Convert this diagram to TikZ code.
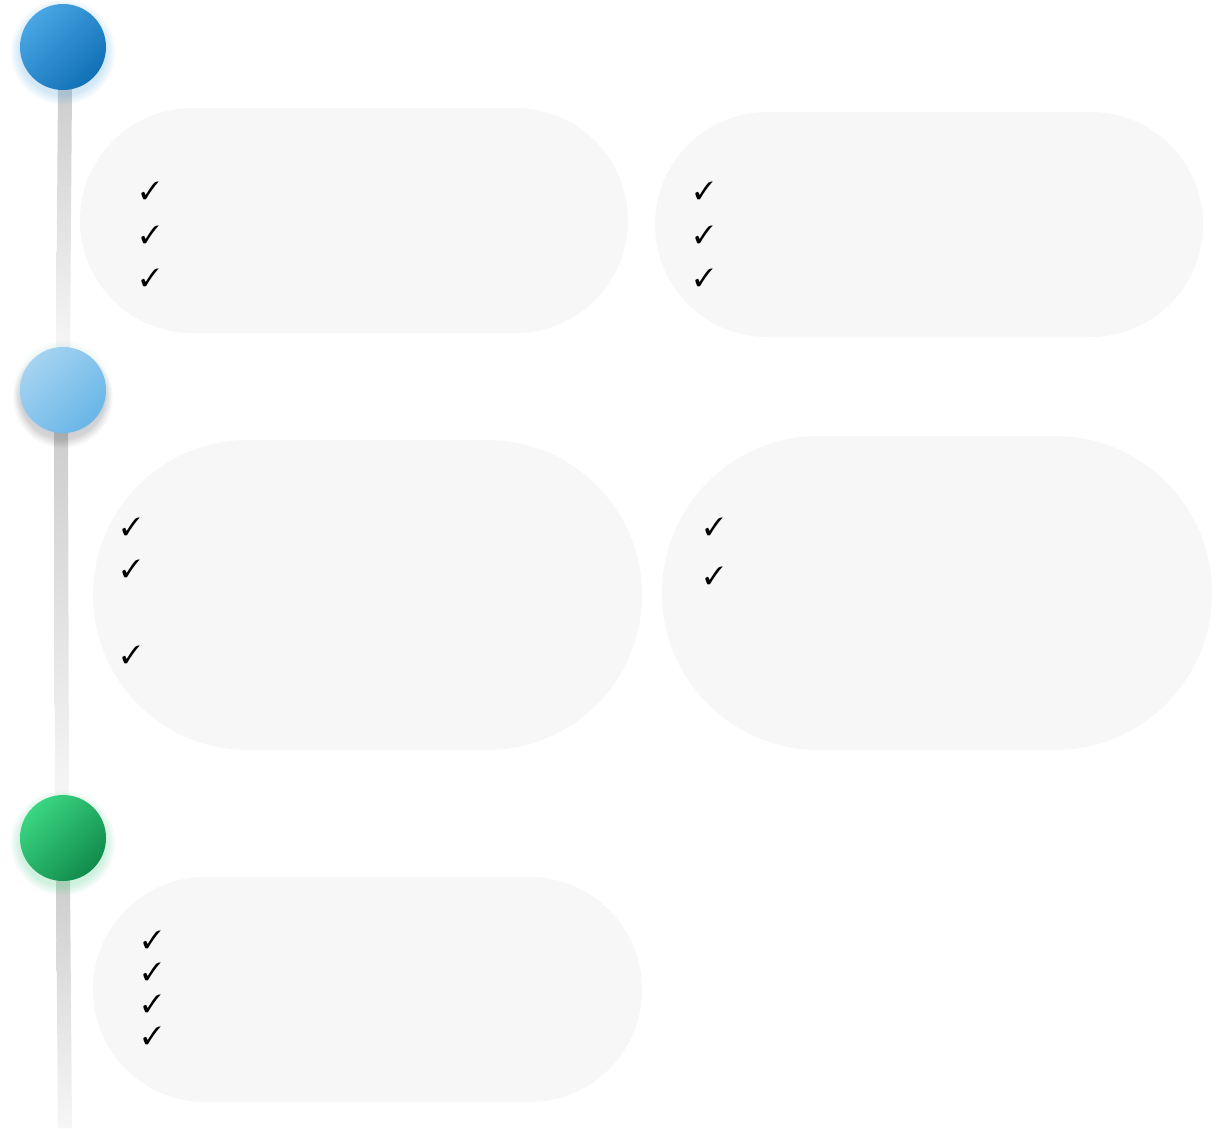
\documentclass[tikz,border=0pt]{standalone}
\usepackage{pifont}
\usetikzlibrary{shapes.misc,calc}
\definecolor{cardgray}{HTML}{F7F7F7}
\definecolor{blueL}{HTML}{48A6E4}
\definecolor{blueD}{HTML}{1170B6}
\definecolor{skyL}{HTML}{A5D3F1}
\definecolor{skyD}{HTML}{69B6E7}
\definecolor{grnL}{HTML}{3AD682}
\definecolor{grnD}{HTML}{118B4B}
\definecolor{barTop}{HTML}{CDCDCD}
\definecolor{barBot}{HTML}{F6F6F6}
\begin{document}
\begin{tikzpicture}[x=1pt,y=-1pt,
  card/.style={rounded rectangle, fill=cardgray, draw=none, inner sep=0pt},
  chk/.style={font=\fontsize{25}{25}\selectfont, inner sep=0pt},
  dot/.style={circle, minimum size=86pt, inner sep=0pt, shading=axis, shading angle=45},
  bar/.style={top color=barTop, bottom color=barBot}
]
\useasboundingbox[fill=white] (0,0) rectangle (1223,1128);

% cards
\node[card, minimum width=548pt, minimum height=225pt] (A) at (354,220.5) {};
\node[card, minimum width=548pt, minimum height=225pt] (B) at (929,224.5) {};
\node[card, minimum width=549pt, minimum height=310pt] (C) at (367.5,595) {};
\node[card, minimum width=550pt, minimum height=314pt] (D) at (937,593) {};
\node[card, minimum width=549pt, minimum height=225pt] (E) at (367.5,989.5) {};

% circle anchor coordinates
\coordinate (p1) at (63,47);
\coordinate (p2) at (63,390);
\coordinate (p3) at (63,838);
\coordinate (bend) at (65,1128);

% bars
\shade[bar] ($(p1)+(-5,40)$) -- ($(p1)+(9,40)$) -- ($(p2)+(7,-40)$) -- ($(p2)+(-7,-40)$) -- cycle;
\shade[bar] ($(p2)+(-9,40)$) -- ($(p2)+(5,40)$) -- ($(p3)+(6,-40)$) -- ($(p3)+(-8,-40)$) -- cycle;
\shade[bar] ($(p3)+(-7,40)$) -- ($(p3)+(7,40)$) -- ($(bend)+(7,0)$) -- ($(bend)+(-7,0)$) -- cycle;

% glows and shadows
\foreach \k in {1,...,8}{
  \fill[blueL, opacity=0.03] ($(p1)+(0,5)$) circle ({42+1.3*\k});
  \fill[grnL, opacity=0.03] ($(p3)+(0,5)$) circle ({42+1.3*\k});
  \fill[black, opacity=0.018] ($(p2)+(0,8)$) circle ({41+1.1*\k});
  \fill[skyL, opacity=0.015] (p2) circle ({43+0.8*\k});
}

% circles
\node[dot, top color=blueL, bottom color=blueD, shading angle=45] (c1) at (p1) {};
\node[dot, top color=skyL, bottom color=skyD, shading angle=45] (c2) at (p2) {};
\node[dot, top color=grnL, bottom color=grnD, shading angle=45] (c3) at (p3) {};

% checkmarks
\node[chk] (a1) at (150,191) {\ding{51}};
\node[chk] (a2) at (150,235) {\ding{51}};
\node[chk] (a3) at (150,278) {\ding{51}};
\node[chk] (b1) at (704,191) {\ding{51}};
\node[chk] (b2) at (704,235) {\ding{51}};
\node[chk] (b3) at (704,278) {\ding{51}};
\node[chk] (c1a) at (131,527) {\ding{51}};
\node[chk] (c2a) at (131,569) {\ding{51}};
\node[chk] (c3a) at (131,655) {\ding{51}};
\node[chk] (d1) at (714,527) {\ding{51}};
\node[chk] (d2) at (714,576) {\ding{51}};
\node[chk] (e1) at (152,940) {\ding{51}};
\node[chk] (e2) at (152,972) {\ding{51}};
\node[chk] (e3) at (152,1004) {\ding{51}};
\node[chk] (e4) at (152,1036) {\ding{51}};
\end{tikzpicture}
\end{document}
